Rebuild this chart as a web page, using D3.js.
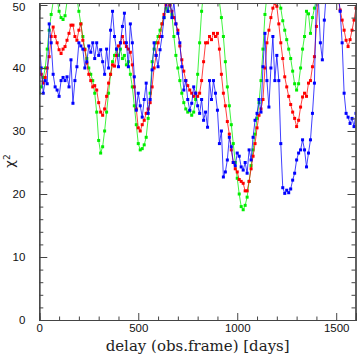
<!DOCTYPE html>
<html>
<head>
<meta charset="utf-8">
<script src="https://cdn.jsdelivr.net/npm/d3@7"></script>
<style>
  html, body { margin: 0; padding: 0; background: #fff; }
  svg { display: block; }
</style>
</head>
<body>
<svg id="chart" width="357" height="359"></svg>
<script>
// delay grid (days)
const delays = [0,10,20,30,40,50,60,70,80,90,100,110,120,130,140,150,160,170,180,190,
200,210,220,230,240,250,260,270,280,290,300,310,320,330,340,350,360,370,380,390,
400,410,420,430,440,450,460,470,480,490,500,510,520,530,540,550,560,570,580,590,
600,610,620,630,640,650,660,670,680,690,700,710,720,730,740,750,760,770,780,790,
800,810,820,830,840,850,860,870,880,890,900,910,920,930,940,950,960,970,980,990,
1000,1010,1020,1030,1040,1050,1060,1070,1080,1090,1100,1110,1120,1130,1140,1150,1160,1170,1180,1190,
1200,1210,1220,1230,1240,1250,1260,1270,1280,1290,1300,1310,1320,1330,1340,1350,1360,1370,1380,1390,
1400,1410,1420,1430,1440,1450,1460,1470,1480,1490,1500,1510,1520,1530,1540,1550,1560,1570,1580,1590,1600];

const greenChi2 = [36,37,38.5,40,43,46,48.5,50.5,52,51,49,48,47.7,48.3,50.5,52,53,53,52,51,
49,47,45,43,41.5,40,39,38,36,33,28.5,26.5,27.5,30,33,36,39,41,42,43,
42,43,41.5,42,40.5,41,39,37,34,31,28,27,27.2,27.8,29,32,36,41,43,44,
45,46,47,48,49.5,49,50,48.5,45,42,40,38,36,34.5,33.5,33,33.2,32.5,33,35,
39,44,49,52,53,54,54,53,53,52,51,50.5,48,45,41,37,34,31,28,25,
22.5,20,18,17.5,18.2,19.5,22,24.5,27,29.5,32,34.5,38,43,48.5,51.5,53,54,54,53.5,
53,51,49.5,47.5,46,44.5,43,41.5,39.5,37.5,36.5,37.5,40,43,45,49,48.6,45.5,48,49.5,
51,52,53,53,54,54,54,53,53,53,53,53,53,53,53,53,53,53,53,53,53];

const redChi2 = [40,39,37.6,38.5,40,41.8,45,46.5,45,44,42.9,42.3,43,43.4,44.4,45.5,46.8,46.8,45,44.4,
46,47,44.4,42.9,40.8,39,38,37,37.2,36.5,34.5,33,32.5,33.5,35.5,37.6,39,40.5,40.3,42,
43.5,44,45,44,43.4,43,42.5,40.5,37,33.5,30.5,30,31,31.7,32.8,33.5,34.5,37,40,42,
44,45,47,48.5,50,50.5,50,49,48,47,46,43.5,41.3,39.5,38,37.2,36.5,36,35.5,36,
35.5,36,38,41,44,44,45,44.5,45.5,45,45.5,43,39,36,34,31.5,29.5,27,25,24,
23.5,22.3,22,21.7,20.5,20.5,22,24,26,28,30.5,32.5,33.5,35,40,44,46,48,49.5,50.3,
49.8,47,44,41.5,38.6,37,35.5,34.2,33,32,30.7,31.7,33.8,35.4,36,35.5,37.6,38,40.2,41.8,
46.6,51,52,53,53,53,53,53,53,53,52,51,49.2,47.6,46,44.4,43.4,44.5,46,47.6,49.5];

const blueChi2 = [44,40,36,38,37.5,47,44,39,37,36.5,35.5,38,38.5,38,38.6,37,41.3,34.4,38,40.2,
44,43.5,43,40,41,43.5,42.5,44,41.5,44,42,42.9,41,39,43,40,46,49,45,43,
40.2,44,46.6,48.7,44,40.2,47,44,38.6,33.3,36,34,32.2,35,37.6,32.8,35,39.7,44,42,
40.2,42.9,45,48,50.5,49,51,48,50.5,47,45.5,44,40.2,36.5,38,35,33.3,34.4,37,36,
34,32.8,35,31.7,33,30.6,38,35,38,36,33.3,28,30,22.7,23.5,25.4,29,27.5,25,24.5,
26.5,26,24.3,23.8,25,23.3,27,25.4,29,31.7,32.8,35,33,40.2,45.5,38,33.8,40,45,38,
42,38,28,21,20.1,20.6,20.2,20.8,22.2,23.3,25.4,26.5,27,28.6,27,24.3,26.5,28.6,32.8,37.6,
52,51,44,41.3,47.6,52,52,52,52,52,52,52,49,44,36,32.8,32.2,31.2,32,30.7,32.8];

const xMajorTicks = [0,500,1000,1500];
const yMajorTicks = [0,10,20,30,40,50];

const series = [
  {name: "green", color: "#00ee00", values: greenChi2},
  {name: "red", color: "#ff0000", values: redChi2},
  {name: "blue", color: "#0000ff", values: blueChi2}
];

const svg = d3.select("#chart");
const L = 39.3, R = 356, T = 5, B = 320;

const x = d3.scaleLinear().domain([0, 1600]).range([L, R]);
const y = d3.scaleLinear().domain([0, 50]).range([B, T]);

svg.append("defs").append("clipPath").attr("id", "clip")
  .append("rect").attr("x", L).attr("y", T - 2).attr("width", R - L).attr("height", B - T + 2);

const plot = svg.append("g").attr("clip-path", "url(#clip)");

const line = d3.line().x((d, i) => x(delays[i])).y(d => y(d));

series.forEach(s => {
  const g = plot.append("g");
  g.append("path").datum(s.values)
    .attr("d", line)
    .attr("fill", "none")
    .attr("stroke", s.color)
    .attr("stroke-width", 1)
    .attr("stroke-opacity", 0.75);
  g.selectAll("rect").data(s.values).join("rect")
    .attr("x", (d, i) => x(delays[i]) - 1.5)
    .attr("y", d => y(d) - 1.5)
    .attr("width", 3).attr("height", 3)
    .attr("fill", s.color);
});

// axes
const axisColor = "#444";
const xMinor = d3.range(0, 1601, 100).filter(v => !xMajorTicks.includes(v));
const yMinor = d3.range(0, 51, 2).filter(v => !yMajorTicks.includes(v));

const axB = svg.append("g").attr("transform", `translate(0,${B})`)
  .call(d3.axisBottom(x).tickValues(xMajorTicks).tickSize(-7).tickPadding(4).tickFormat(d3.format("d")));
const axBm = svg.append("g").attr("transform", `translate(0,${B})`)
  .call(d3.axisBottom(x).tickValues(xMinor).tickSize(-3.5).tickFormat(""));
const axT = svg.append("g").attr("transform", `translate(0,${T - 2})`)
  .call(d3.axisTop(x).tickValues(xMajorTicks).tickSize(-7).tickFormat(""));
const axTm = svg.append("g").attr("transform", `translate(0,${T - 2})`)
  .call(d3.axisTop(x).tickValues(xMinor).tickSize(-3.5).tickFormat(""));
const axL = svg.append("g").attr("transform", `translate(${L},0)`)
  .call(d3.axisLeft(y).tickValues(yMajorTicks).tickSize(-8).tickPadding(14).tickFormat(d3.format("d")));
const axLm = svg.append("g").attr("transform", `translate(${L},0)`)
  .call(d3.axisLeft(y).tickValues(yMinor).tickSize(-4).tickFormat(""));
const axR = svg.append("g").attr("transform", `translate(${R - 0.5},0)`)
  .call(d3.axisRight(y).tickValues(yMajorTicks).tickSize(-8).tickFormat(""));
const axRm = svg.append("g").attr("transform", `translate(${R - 0.5},0)`)
  .call(d3.axisRight(y).tickValues(yMinor).tickSize(-4).tickFormat(""));

[axB, axBm, axT, axTm, axL, axLm, axR, axRm].forEach(a => {
  a.selectAll("path.domain").attr("stroke", axisColor).attr("stroke-width", 1.2);
  a.selectAll(".tick line").attr("stroke", axisColor);
  a.selectAll("text").attr("fill", "#111")
    .style("font-family", "Liberation Sans, Arial, sans-serif").style("font-size", "11.5px");
});
axB.selectAll("text").attr("dy", "0.71em");
axL.select(".tick:last-of-type text").attr("dy", "0.5em");

// titles
svg.append("text")
  .attr("x", (L + R) / 2 + 0).attr("y", 351)
  .attr("text-anchor", "middle")
  .attr("textLength", 184).attr("lengthAdjust", "spacingAndGlyphs")
  .style("font-family", "DejaVu Serif, Liberation Serif, serif")
  .style("font-size", "14px").attr("fill", "#222")
  .text("delay (obs.frame) [days]");

const yt = svg.append("text")
  .attr("transform", "translate(14,161) rotate(-90)")
  .attr("text-anchor", "middle")
  .style("font-family", "DejaVu Sans, sans-serif")
  .style("font-size", "13px").attr("fill", "#222");
yt.append("tspan").text("χ");
yt.append("tspan").attr("dy", "-0.45em").style("font-size", "9px").text("2");
</script>
</body>
</html>
